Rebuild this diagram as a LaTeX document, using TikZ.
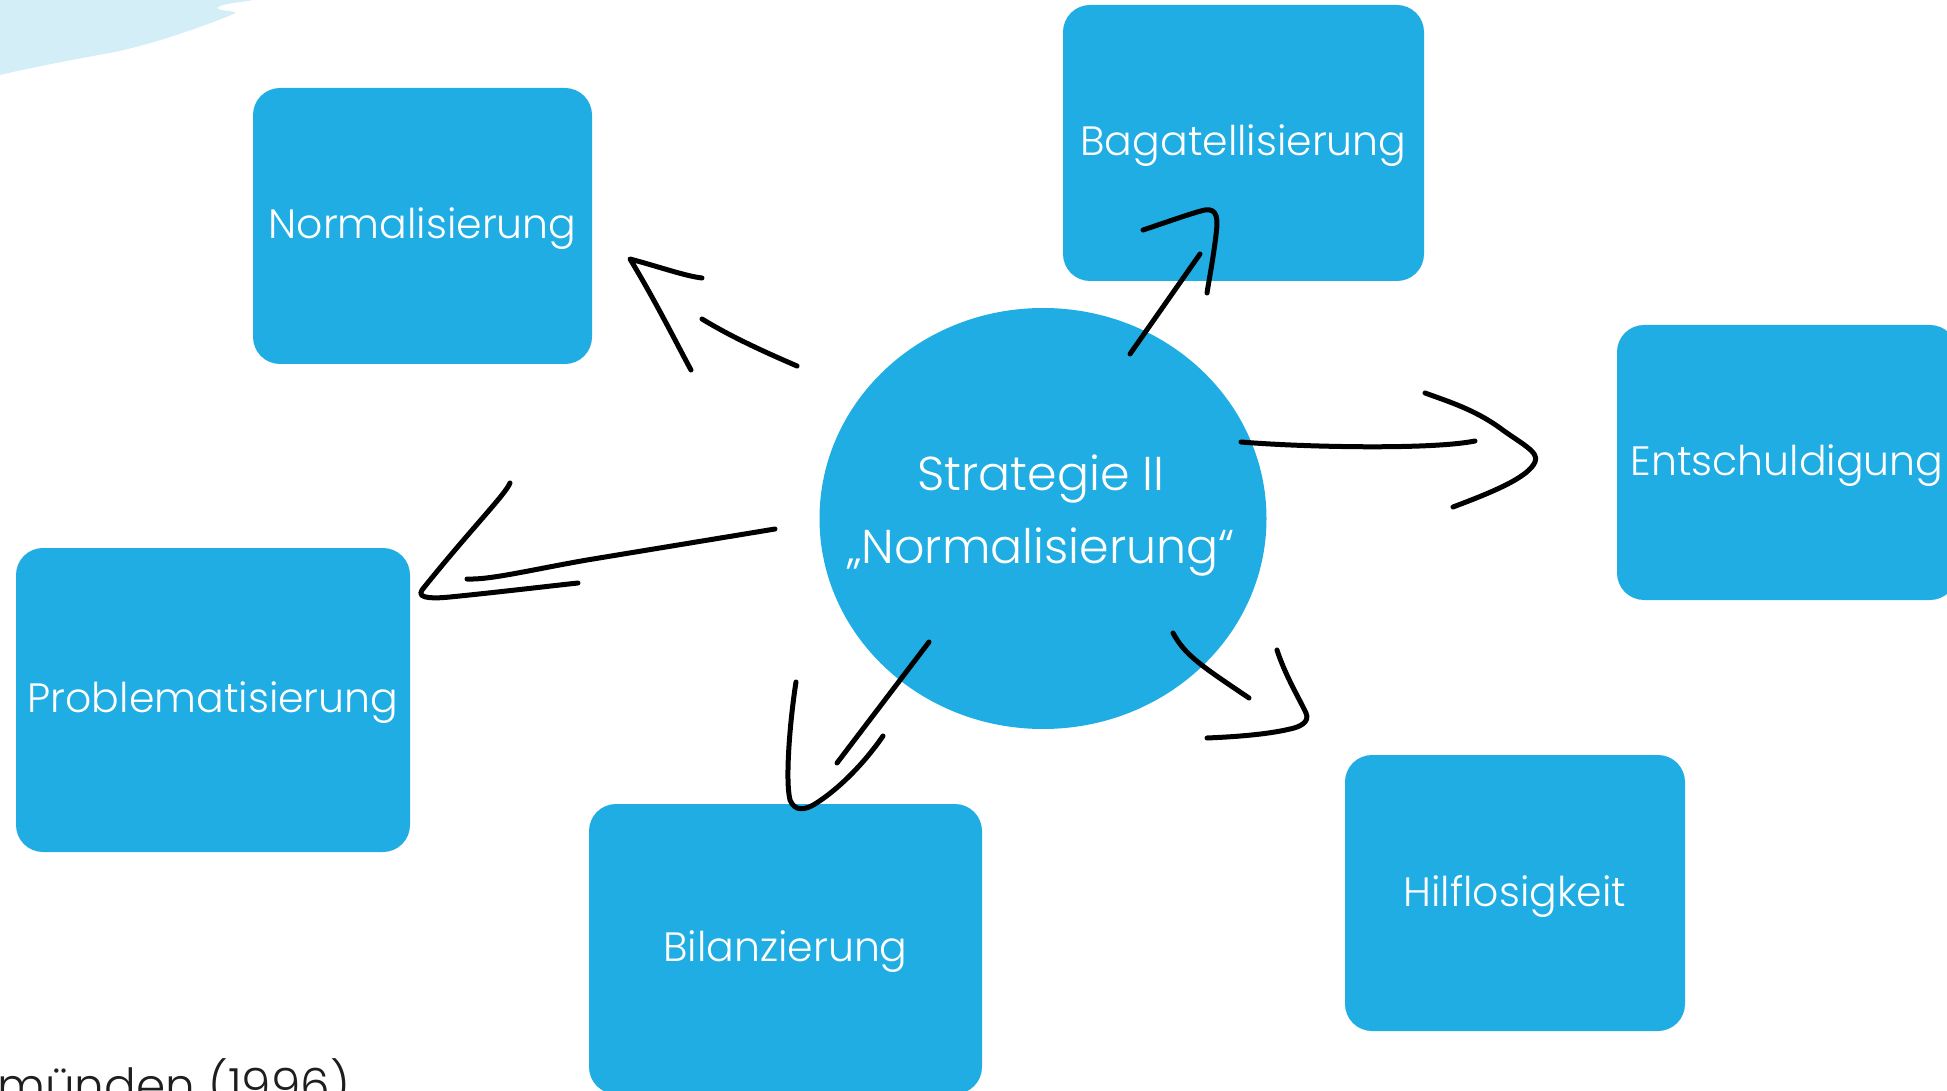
\documentclass[tikz,border=0pt]{standalone}
\usepackage{fontspec}
\IfFontExistsTF{Poppins Light}{\setmainfont{Poppins Light}}{\setmainfont{Poppins}}
\usetikzlibrary{shapes.geometric}
\definecolor{boxblue}{RGB}{31,173,227}
\definecolor{paleblue}{RGB}{212,238,248}
\definecolor{darktext}{RGB}{30,30,30}
\tikzset{
  box/.style={fill=boxblue, rounded corners=27pt, inner sep=0pt, text=white,
    font=\fontsize{41}{47}\selectfont, text depth=5pt},
  hubshape/.style={ellipse, fill=boxblue, inner sep=0pt},
  hubtext/.style={inner sep=0pt, text=white, align=center,
    font=\fontsize{47.5}{73}\selectfont},
  stroke/.style={draw=black, line width=5pt, line cap=round, line join=round}
}
\begin{document}
\begin{tikzpicture}[x=1pt,y=-1pt]
\useasboundingbox (0,0) rectangle (1947,1091);
\clip (0,0) rectangle (1947,1091);
% pale decoration top left
\fill[paleblue] (0,0) -- (253,0) .. controls (240,3) and (222,3) .. (217,8)
  .. controls (222,12) and (233,10) .. (236,13)
  .. controls (200,28) and (150,45) .. (110,53)
  .. controls (70,60) and (30,68) .. (0,75) -- cycle;
% boxes
\node[box, minimum width=339pt, minimum height=276pt] (norm) at (422.5,226) {Normalisierung};
\node[box, minimum width=361pt, minimum height=276pt] (baga) at (1243.5,143) {Bagatellisierung};
\node[box, minimum width=340pt, minimum height=275pt] (ents) at (1787,462.5) {Entschuldigung};
\node[box, minimum width=394pt, minimum height=304pt] (prob) at (213,700) {Problematisierung};
\node[box, minimum width=393pt, minimum height=290pt] (bila) at (785.5,949) {Bilanzierung};
\node[box, minimum width=340pt, minimum height=276pt] (hilf) at (1515,893) {Hilflosigkeit};
% hub
\node[hubshape, minimum width=447pt, minimum height=421pt] (hub) at (1043,518.5) {};
\node[hubtext] (hubtext) at (1041,515.5) {Strategie II\\„Normalisierung“};
% source text
\node[anchor=base east, text=darktext, inner sep=0pt, font=\fontsize{47}{52}\selectfont] (src) at (350,1102) {münden (1996)};
% hand-drawn arrows
% to Normalisierung
\draw[stroke] (702,278) .. controls (685,276) and (660,267) .. (630,259)
  .. controls (655,300) and (680,350) .. (691,370);
\draw[stroke] (702,319) .. controls (730,336) and (760,350) .. (797,366);
% to Bagatellisierung
\draw[stroke] (1143,230) .. controls (1170,221) and (1195,212) .. (1205,210)
  .. controls (1218,208) and (1218,220) .. (1216,235)
  .. controls (1213,260) and (1209,280) .. (1207,293);
\draw[stroke] (1200,254) -- (1130,354);
% to Entschuldigung
\draw[stroke] (1241,442) .. controls (1300,447) and (1430,450) .. (1475,441);
\draw[stroke] (1425,393) .. controls (1450,402) and (1475,410) .. (1500,428)
  .. controls (1520,443) and (1540,452) .. (1535,462)
  .. controls (1528,478) and (1490,493) .. (1453,507);
% to Problematisierung
\draw[stroke] (510,483) .. controls (505,495) and (470,530) .. (422,590)
  .. controls (415,600) and (440,598) .. (450,597)
  .. controls (500,592) and (550,586) .. (578,583);
\draw[stroke] (775,529) -- (587,560) .. controls (530,570) and (490,580) .. (467,579);
% to Bilanzierung
\draw[stroke] (929,642) -- (837,763);
\draw[stroke] (796,682) .. controls (790,720) and (785,780) .. (790,800)
  .. controls (795,812) and (805,810) .. (815,804)
  .. controls (845,785) and (870,755) .. (883,736);
% to Hilflosigkeit
\draw[stroke] (1173,633) .. controls (1185,655) and (1200,665) .. (1249,698);
\draw[stroke] (1277,650) .. controls (1285,675) and (1300,700) .. (1306,713)
  .. controls (1310,722) and (1300,727) .. (1290,729)
  .. controls (1265,735) and (1230,737) .. (1207,738);
\end{tikzpicture}
\end{document}
